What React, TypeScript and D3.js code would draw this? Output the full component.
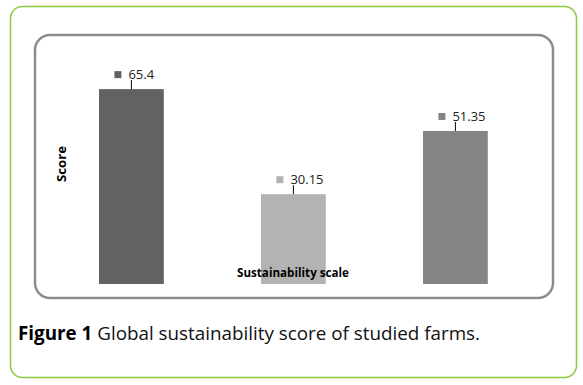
import React from "react";
import * as d3 from "d3";

const categories = ["A", "B", "C"];
const scores = [65.4, 30.15, 51.35];
const labels = ["65.4", "30.15", "51.35"];
const barColors = ["#626262", "#b3b3b3", "#858585"];
const yAxisTitle = "Score";
const xAxisTitle = "Sustainability scale";
const captionBold = "Figure 1";
const captionRest = " Global sustainability score of studied farms.";

export default function App() {
  const W = 583;
  const H = 385;
  const x = d3
    .scaleBand<string>()
    .domain(categories)
    .range([50.4, 536.4])
    .paddingInner(0.6)
    .paddingOuter(0.3);
  const y = d3.scaleLinear().domain([0, 70]).range([284, 284 - 70 * 2.98]);

  return (
    <svg
      width={W}
      height={H}
      style={{ position: "absolute", left: 0, top: 0 }}
      fontFamily="'Open Sans', sans-serif"
    >
      <rect x={0} y={0} width={W} height={H} fill="#fff" />
      <rect
        x={10.5}
        y={6.5}
        width={566}
        height={371}
        rx={12}
        ry={12}
        fill="none"
        stroke="#8dc63f"
        strokeWidth={1.5}
      />
      <rect
        x={35}
        y={35}
        width={518}
        height={263}
        rx={15}
        ry={15}
        fill="none"
        stroke="#8c8c8c"
        strokeWidth={2.5}
      />
      {categories.map((c, i) => {
        const bx = x(c)!;
        const bw = x.bandwidth();
        const cx = bx + bw / 2;
        const top = y(scores[i]);
        return (
          <g key={c}>
            <rect x={bx} y={top} width={bw} height={y(0) - top} fill={barColors[i]} />
            <line x1={cx} x2={cx} y1={top - 9} y2={top} stroke="#000" strokeWidth={1} />
            <rect x={cx - 17} y={top - 18} width={7} height={7} fill={barColors[i]} />
            <text x={cx - 3} y={top - 10} fontSize={13} fill="#222">
              {labels[i]}
            </text>
          </g>
        );
      })}
      <text
        transform="translate(66,164) rotate(-90)"
        textAnchor="middle"
        fontSize={13}
        fontWeight="bold"
        fill="#000"
        textLength={36}
        lengthAdjust="spacingAndGlyphs"
      >
        {yAxisTitle}
      </text>
      <text
        x={293}
        y={277}
        textAnchor="middle"
        fontSize={12}
        fontWeight="bold"
        fill="#000"
        textLength={112}
        lengthAdjust="spacingAndGlyphs"
      >
        {xAxisTitle}
      </text>
      <text
        x={18}
        y={340}
        fontSize={19}
        fill="#111"
        textLength={462}
        lengthAdjust="spacingAndGlyphs"
      >
        <tspan fontWeight="bold" fill="#000">{captionBold}</tspan>
        <tspan>{captionRest}</tspan>
      </text>
    </svg>
  );
}
